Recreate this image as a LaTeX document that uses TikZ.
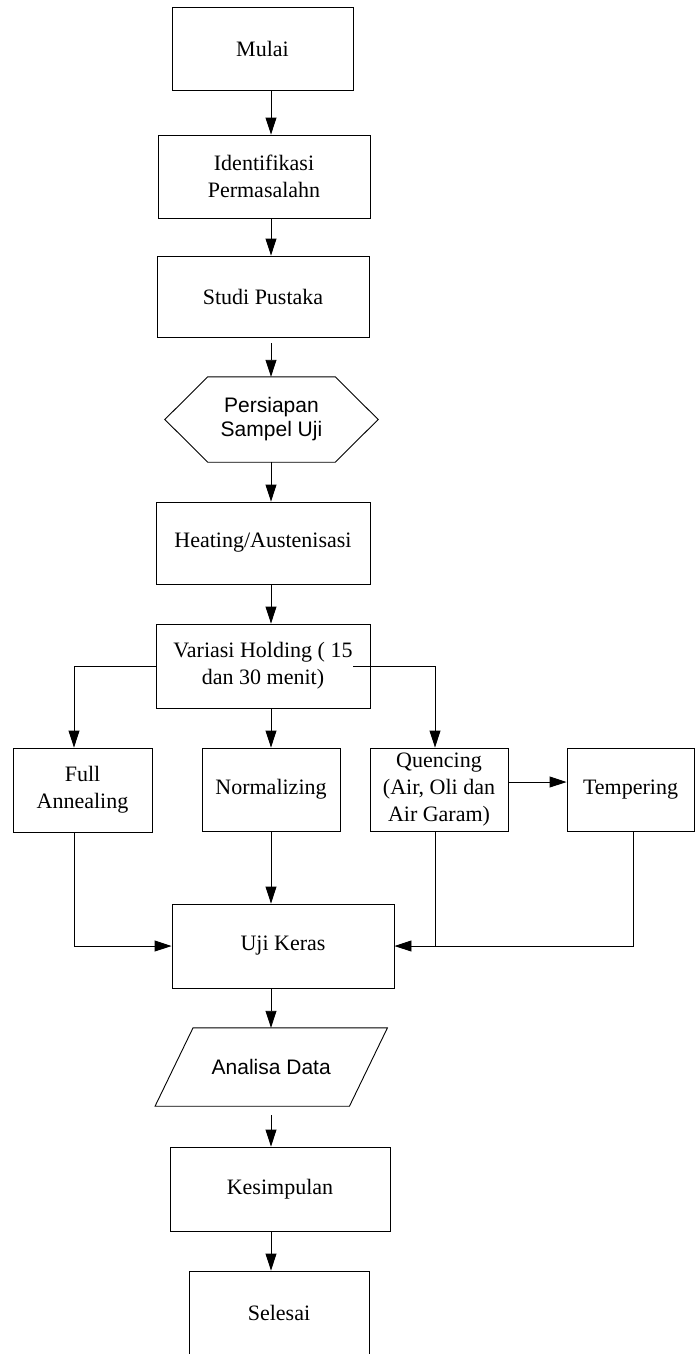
\documentclass[tikz,border=0pt]{standalone}
\usepackage{fontspec}
\setmainfont{Liberation Serif}
\newfontfamily\arialfont{Liberation Sans}
\usepackage{tikz}
\usetikzlibrary{arrows.meta}

\begin{document}
\begin{tikzpicture}[
    x=1pt,y=-1pt,
    box/.style={draw, line width=0.9pt, align=center, inner sep=0pt,
      font=\fontsize{22}{27}\selectfont},
    shp/.style={inner sep=0pt, align=center,
      font=\arialfont\fontsize{21}{24}\selectfont},
    line/.style={line width=0.9pt},
    arr/.style={line width=0.9pt, -{Triangle[length=17pt,width=11pt]}}
    ]
    \useasboundingbox (0,0) rectangle (695,1354);
    \coordinate (axis) at (271,0);
    \node[box, minimum width=181pt, minimum height=83pt] (mulai) at (262.5,48.5) {Mulai};
    \node[box, minimum width=212pt, minimum height=83pt] (ident) at (264,176.5) {Identifikasi\\Permasalahn};
    \node[box, minimum width=212pt, minimum height=81pt] (studi) at (263,296.5) {Studi Pustaka};
    \node[shp, minimum width=213pt, minimum height=85pt] (prep) at (271.5,419.5) {Persiapan\\Sampel Uji};
    \draw[line] (prep.west) -- ([xshift=43pt]prep.north west) -- ([xshift=-43pt]prep.north east)
      -- (prep.east) -- ([xshift=-43pt]prep.south east) -- ([xshift=43pt]prep.south west) -- cycle;
    \node[box, minimum width=214pt, minimum height=82pt] (heat) at (263,543) {Heating/Austenisasi};
    \node[box, minimum width=214pt, minimum height=84pt] (hold) at (263,666) {Variasi Holding ( 15\\dan 30 menit)};
    \node[box, minimum width=139pt, minimum height=84pt] (full) at (82.5,790) {Full\\Annealing};
    \node[box, minimum width=138pt, minimum height=83pt] (norm) at (271,789.5) {Normalizing};
    \node[box, minimum width=138pt, minimum height=83pt] (quench) at (439,789.5) {Quencing\\(Air, Oli dan\\Air Garam)};
    \node[box, minimum width=127pt, minimum height=83pt] (temper) at (630.5,789.5) {Tempering};
    \node[box, minimum width=222pt, minimum height=84pt] (keras) at (283,946) {Uji Keras};
    \node[shp, minimum width=232pt, minimum height=78pt] (data) at (271.25,1067) {Analisa Data};
    \draw[line] ([xshift=38pt]data.north west) -- (data.north east)
      -- ([xshift=-38pt]data.south east) -- (data.south west) -- cycle;
    \node[box, minimum width=220pt, minimum height=84pt] (kesim) at (280,1189) {Kesimpulan};
    \node[box, minimum width=180pt, minimum height=84pt] (selesai) at (279,1313) {Selesai};
    \draw[arr] (mulai.south -| axis) -- (ident.north -| axis);
    \draw[arr] (ident.south -| axis) -- (studi.north -| axis);
    \draw[arr, shorten <=6pt] (studi.south -| axis) -- (prep.north -| axis);
    \draw[arr] (prep.south -| axis) -- (heat.north -| axis);
    \draw[arr] (heat.south -| axis) -- (hold.north -| axis);
    \draw[arr] (hold.west) -| ([xshift=-8.5pt]full.north);
    \draw[arr] (hold.south -| axis) -- (norm.north -| axis);
    \draw[arr] ([xshift=-17pt]hold.east) -| ([xshift=-4pt]quench.north);
    \draw[arr] ([yshift=7.5pt]quench.east) -- ([yshift=7.5pt]temper.west);
    \draw[arr] ([xshift=-8.5pt]full.south) |- (keras.west);
    \draw[arr] (norm.south -| axis) -- (keras.north -| axis);
    \draw[arr] ([xshift=-4pt]quench.south) |- (keras.east);
    \draw[line] ([xshift=2.5pt]temper.south) |- ([xshift=-4pt]quench.south |- keras.east);
    \draw[arr] (keras.south -| axis) -- (data.north -| axis);
    \draw[arr, shorten <=9pt] (data.south -| axis) -- (kesim.north -| axis);
    \draw[arr] (kesim.south -| axis) -- (selesai.north -| axis);
\end{tikzpicture}
\end{document}
